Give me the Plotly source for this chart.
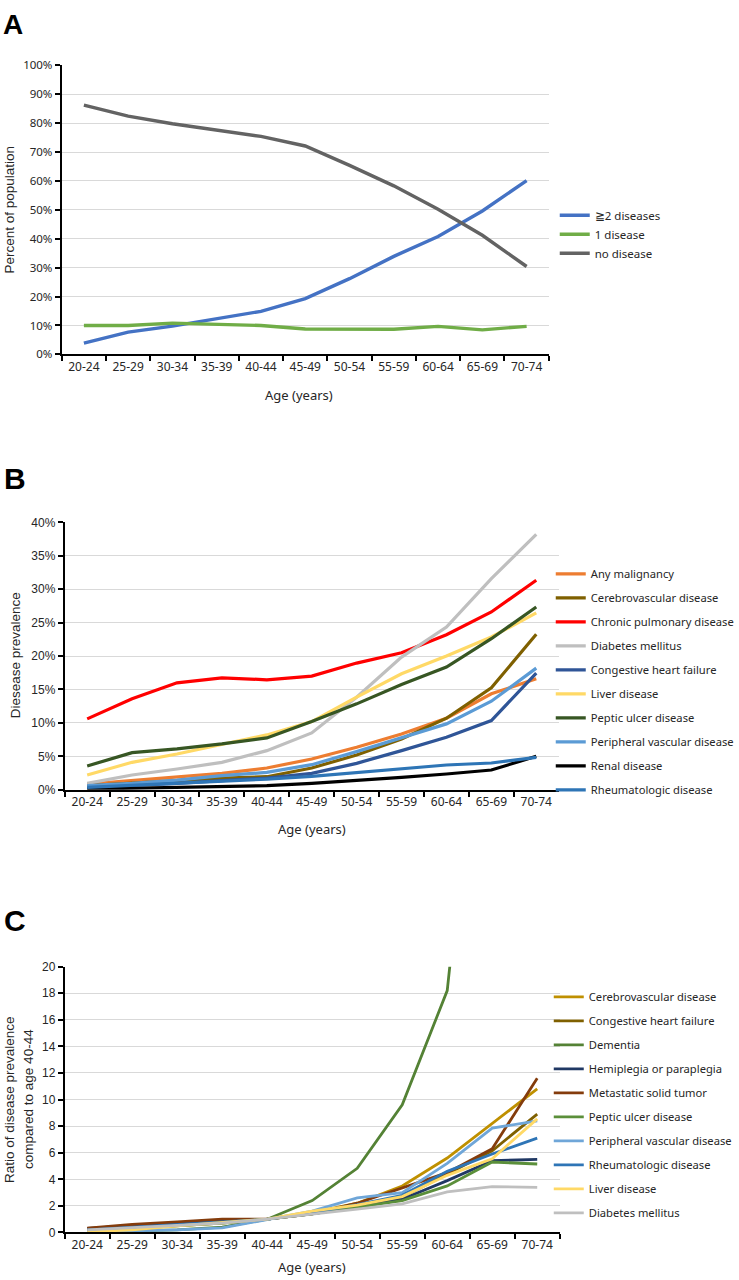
import plotly.graph_objects as go

ages = ["20-24", "25-29", "30-34", "35-39", "40-44", "45-49", "50-54", "55-59", "60-64", "65-69", "70-74"]

# Panel A (percent of population)
a_two_plus = [3.9, 7.7, 9.8, 12.5, 14.9, 19.3, 26.2, 33.9, 40.8, 49.6, 60.1]
a_one = [10.0, 10.0, 10.8, 10.5, 10.0, 8.8, 8.7, 8.7, 9.7, 8.5, 9.7]
a_none = [86.2, 82.4, 79.8, 77.5, 75.4, 72.1, 65.4, 58.3, 50.2, 41.2, 30.4]

# Panel B (disease prevalence, %)
b_malignancy = [0.85, 1.35, 1.85, 2.45, 3.25, 4.6, 6.35, 8.35, 10.7, 14.35, 16.6]
b_cerebro = [0.6, 0.95, 1.35, 1.75, 1.95, 3.25, 5.2, 7.6, 10.7, 15.25, 23.25]
b_pulmonary = [10.6, 13.6, 16.0, 16.75, 16.45, 17.0, 18.95, 20.5, 23.2, 26.6, 31.35]
b_diabetes = [0.95, 2.2, 3.1, 4.1, 5.85, 8.5, 13.85, 19.85, 24.35, 31.6, 38.2]
b_chf = [0.35, 0.6, 0.95, 1.35, 1.75, 2.45, 3.95, 5.85, 7.85, 10.35, 17.45]
b_liver = [2.2, 4.1, 5.35, 6.75, 8.2, 10.2, 13.85, 17.35, 20.0, 22.85, 26.45]
b_peptic = [3.55, 5.55, 6.1, 6.85, 7.75, 10.2, 12.85, 15.75, 18.35, 22.6, 27.35]
b_pvd = [0.6, 0.95, 1.45, 2.1, 2.6, 3.75, 5.7, 7.75, 9.85, 13.25, 18.2]
b_renal = [0.1, 0.2, 0.35, 0.5, 0.6, 0.95, 1.35, 1.85, 2.35, 2.95, 5.0]
b_rheum = [0.35, 0.65, 0.95, 1.35, 1.6, 2.0, 2.6, 3.2, 3.7, 4.0, 4.85]

# Panel C (ratio compared to age 40-44)
c_cerebro = [0.1, 0.3, 0.5, 0.7, 1.0, 1.5, 2.2, 3.5, 5.6, 8.2, 10.8]
c_chf = [0.2, 0.4, 0.6, 0.8, 1.0, 1.45, 2.0, 2.65, 4.4, 6.15, 8.9]
c_dementia = [0.05, 0.1, 0.2, 0.4, 1.0, 2.4, 4.83, 9.6, 18.2, 50.0, 80.0]
c_hemiplegia = [0.3, 0.5, 0.7, 0.9, 1.0, 1.4, 1.9, 2.5, 3.9, 5.4, 5.5]
c_metastatic = [0.33, 0.6, 0.8, 1.0, 1.0, 1.4, 2.2, 3.35, 4.5, 6.3, 11.6]
c_peptic = [0.1, 0.3, 0.5, 0.7, 1.0, 1.4, 1.9, 2.4, 3.5, 5.3, 5.15]
c_pvd = [0.05, 0.1, 0.2, 0.35, 1.0, 1.6, 2.6, 3.0, 5.2, 7.85, 8.4]
c_rheum = [0.2, 0.4, 0.6, 0.8, 1.0, 1.5, 2.1, 2.8, 4.6, 5.9, 7.1]
c_liver = [0.05, 0.2, 0.5, 0.75, 1.0, 1.6, 2.05, 2.7, 4.3, 5.55, 8.55]
c_diabetes = [0.2, 0.35, 0.5, 0.7, 1.0, 1.35, 1.75, 2.15, 3.05, 3.45, 3.4]

W, H = 739, 1280
FONT = "Noto Sans"
TXT = "#262626"

fig = go.Figure()

def add(y, name, color, ax, leg, width=3.2):
    fig.add_trace(go.Scatter(
        x=ages, y=y, name=name, mode="lines",
        line=dict(color=color, width=width),
        xaxis="x" + ax, yaxis="y" + ax, legend=leg, legendgroup=name + leg,
    ))

# Panel A
add(a_two_plus, "≧2 diseases", "#4472C4", "", "legend", 3.4)
add(a_one, "1 disease", "#70AD47", "", "legend", 3.4)
add(a_none, "no disease", "#636363", "", "legend", 3.4)

# Panel B
add(b_malignancy, "Any malignancy", "#ED7D31", "2", "legend2")
add(b_cerebro, "Cerebrovascular disease", "#7F6000", "2", "legend2")
add(b_pulmonary, "Chronic pulmonary disease", "#FF0000", "2", "legend2")
add(b_diabetes, "Diabetes mellitus", "#BFBFBF", "2", "legend2")
add(b_chf, "Congestive heart failure", "#2F5597", "2", "legend2")
add(b_liver, "Liver disease", "#FFD966", "2", "legend2")
add(b_peptic, "Peptic ulcer disease", "#375623", "2", "legend2")
add(b_pvd, "Peripheral vascular disease", "#5B9BD5", "2", "legend2")
add(b_renal, "Renal disease", "#000000", "2", "legend2")
add(b_rheum, "Rheumatologic disease", "#2E75B6", "2", "legend2")

# Panel C
add(c_cerebro, "Cerebrovascular disease", "#BF9000", "3", "legend3", 2.8)
add(c_chf, "Congestive heart failure", "#7F6000", "3", "legend3", 2.8)
add(c_dementia, "Dementia", "#548235", "3", "legend3", 2.8)
add(c_hemiplegia, "Hemiplegia or paraplegia", "#203864", "3", "legend3", 2.8)
add(c_metastatic, "Metastatic solid tumor", "#843C0C", "3", "legend3", 2.8)
add(c_peptic, "Peptic ulcer disease", "#5B8F3A", "3", "legend3", 2.8)
add(c_pvd, "Peripheral vascular disease", "#6FA6D8", "3", "legend3", 2.8)
add(c_rheum, "Rheumatologic disease", "#2E75B6", "3", "legend3", 2.8)
add(c_liver, "Liver disease", "#FFD966", "3", "legend3", 2.8)
add(c_diabetes, "Diabetes mellitus", "#BFBFBF", "3", "legend3", 2.8)


def px_x(a, b):
    return [a / W, b / W]


def px_y(top, bottom):
    return [1 - bottom / H, 1 - top / H]


xcommon = dict(
    type="category", showline=True, linecolor="black", linewidth=2,
    ticks="outside", tickson="boundaries", ticklen=5, tickwidth=2, tickcolor="black",
    showgrid=False, tickfont=dict(family=FONT, size=12, color=TXT), range=[-0.5, 10.5],
)
ycommon = dict(
    showline=True, linecolor="black", linewidth=2, ticks="outside", ticklen=5,
    tickwidth=2, tickcolor="black", showgrid=True, gridcolor="#D9D9D9", gridwidth=1,
    zeroline=False,
)

LEGFONT = dict(family=FONT, size=11.2, color=TXT)

fig.update_layout(
    width=W, height=H, margin=dict(l=0, r=0, t=0, b=0),
    paper_bgcolor="white", plot_bgcolor="white",
    font=dict(family=FONT, color=TXT),
    xaxis=dict(domain=px_x(62, 551), anchor="y", **xcommon),
    yaxis=dict(domain=px_y(58, 350.5), anchor="x", range=[0, 100], dtick=10, ticksuffix="%",
               tickfont=dict(family=FONT, size=11.5, color=TXT), **ycommon),
    xaxis2=dict(domain=px_x(65, 561), anchor="y2", **xcommon),
    yaxis2=dict(domain=px_y(520.5, 791), anchor="x2", range=[0, 40], dtick=5, ticksuffix="%",
                tickfont=dict(family="Liberation Sans", size=12, color=TXT), **ycommon),
    xaxis3=dict(domain=px_x(65, 562), anchor="y3", **xcommon),
    yaxis3=dict(domain=px_y(970, 1239), anchor="x3", range=[0, 20], dtick=2,
                tickfont=dict(family="Liberation Sans", size=12, color=TXT), **ycommon),
    legend=dict(x=557 / W, y=1 - 195 / H, xanchor="left", yanchor="top",
                font=dict(family=FONT, size=11.5, color=TXT), itemwidth=30,
                tracegroupgap=0, bgcolor="rgba(0,0,0,0)"),
    legend2=dict(x=553 / W, y=1 - 558 / H, xanchor="left", yanchor="top",
                 font=LEGFONT, itemwidth=30,
                 tracegroupgap=5, bgcolor="rgba(0,0,0,0)"),
    legend3=dict(x=551 / W, y=1 - 986 / H, xanchor="left", yanchor="top",
                 font=LEGFONT, itemwidth=30,
                 tracegroupgap=5, bgcolor="rgba(0,0,0,0)"),
    showlegend=True,
)

ann = []
# Panel letters
ann.append(dict(text="<b>A</b>", x=2 / W, y=1.0, xref="paper", yref="paper",
                xanchor="left", yanchor="top", showarrow=False, borderpad=0,
                font=dict(family="Liberation Sans", size=28, color="black")))
for letter, y in [("B", 476), ("C", 923)]:
    ann.append(dict(text="<b>" + letter + "</b>", x=2 / W, y=1 - y / H, xref="paper", yref="paper",
                    xanchor="left", yanchor="middle", showarrow=False,
                    font=dict(family="Liberation Sans", size=30, color="black")))
# X axis titles
for y, xc in [(392, 300), (831, 313), (1274, 313)]:
    ann.append(dict(text="Age (years)", x=xc / W, y=1 - y / H, xref="paper", yref="paper",
                    xanchor="center", yanchor="middle", showarrow=False,
                    font=dict(family=FONT, size=13, color=TXT)))
# Y axis titles
ytitles = [
    ("Percent of population", 10, 204),
    ("Diesease prevalence", 15, 655),
    ("Ratio of disease prevalence", 9, 1104),
    ("compared to age 40-44", 28, 1104),
]
for text, xc, yc in ytitles:
    ann.append(dict(text=text, x=xc / W, y=1 - yc / H, xref="paper", yref="paper",
                    textangle=-90, xanchor="center", yanchor="middle", showarrow=False,
                    font=dict(family="Liberation Sans", size=13.5, color=TXT)))
fig.update_layout(annotations=ann)

post = (
    "document.documentElement.style.margin='0';"
    "document.body.style.margin='0';"
    "document.body.style.overflow='hidden';"
    "var gd=document.getElementById('{plot_id}');"
    "gd.style.position='absolute';gd.style.left='0px';gd.style.top='0px';"
)
fig.write_html("out.html", config={"displayModeBar": False}, post_script=post)
